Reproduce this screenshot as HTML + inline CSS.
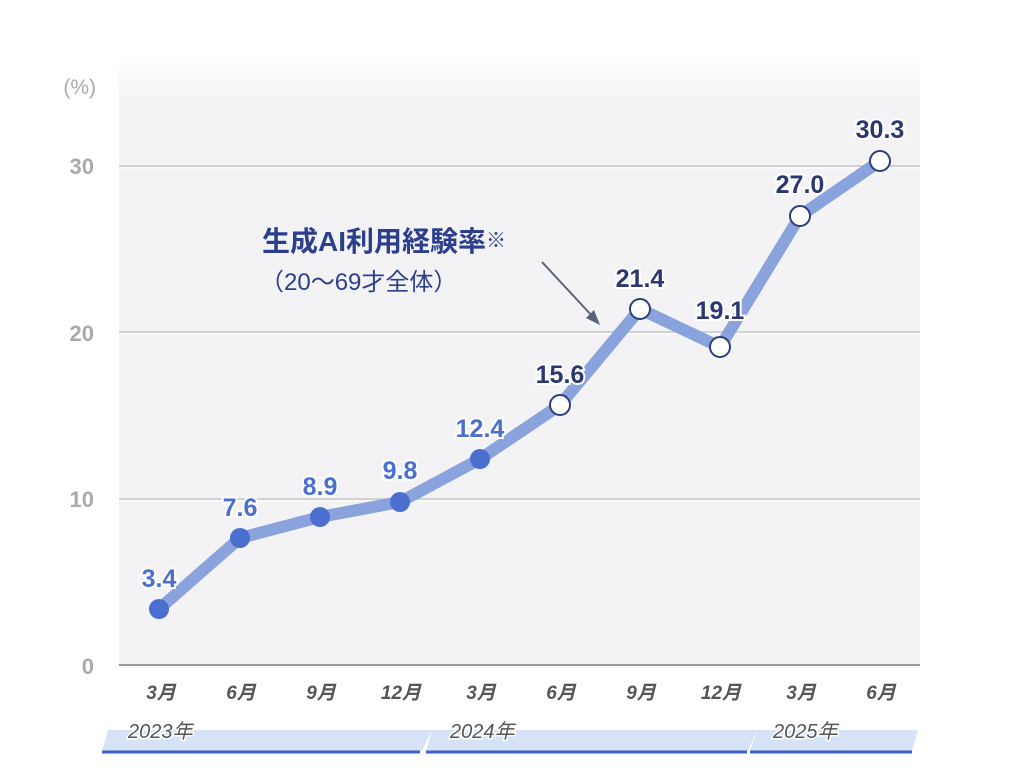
<!DOCTYPE html>
<html><head><meta charset="utf-8"><style>
body{margin:0;background:#fff;}
svg{display:block;font-family:"Liberation Sans","Noto Sans CJK JP",sans-serif;}
</style></head><body>
<svg width="1024" height="777" viewBox="0 0 1024 777">
<defs>
<linearGradient id="bg" x1="0" y1="0" x2="0" y2="1">
<stop offset="0" stop-color="#fff"/><stop offset="0.08" stop-color="#f3f3f5"/><stop offset="1" stop-color="#f3f3f5"/>
</linearGradient>
</defs>
<rect x="119" y="55" width="801" height="610" fill="url(#bg)"/>
<g stroke="#c8c8c8" stroke-width="1.5">
<line x1="119" y1="166" x2="920" y2="166"/>
<line x1="119" y1="332" x2="920" y2="332"/>
<line x1="119" y1="499" x2="920" y2="499"/>
</g>
<g stroke="#fff" stroke-width="1">
<line x1="119" y1="168" x2="920" y2="168"/>
<line x1="119" y1="334" x2="920" y2="334"/>
<line x1="119" y1="501" x2="920" y2="501"/>
</g>
<line x1="119" y1="665" x2="920" y2="665" stroke="#999" stroke-width="2"/>
<g fill="#aaa" font-size="22" font-weight="bold" text-anchor="end">
<text x="96" y="94" font-weight="normal" font-size="21">(%)</text>
<text x="94" y="174">30</text>
<text x="94" y="341">20</text>
<text x="94" y="507">10</text>
<text x="94" y="674">0</text>
</g>
<polyline points="159,609 240,538 320,517 400,502 480,459 560,405 640,309 720,347 800,216 880,161" fill="none" stroke="#8aa3dc" stroke-width="12" stroke-linejoin="round" stroke-linecap="round"/>
<g fill="#4a6fcf">
<circle cx="159" cy="609" r="10"/><circle cx="240" cy="538" r="10"/><circle cx="320" cy="517" r="10"/><circle cx="400" cy="502" r="10"/><circle cx="480" cy="459" r="10"/>
</g>
<g fill="#fff" stroke="#2c3e7c" stroke-width="2">
<circle cx="560" cy="405" r="10"/><circle cx="640" cy="309" r="10"/><circle cx="720" cy="347" r="10"/><circle cx="800" cy="216" r="10"/><circle cx="880" cy="161" r="10"/>
</g>
<g font-size="25" font-weight="bold" text-anchor="middle" stroke="#fff" stroke-width="4" paint-order="stroke">
<g fill="#4a6fcf">
<text x="159" y="587">3.4</text><text x="240" y="516">7.6</text><text x="320" y="495">8.9</text><text x="400" y="479">9.8</text><text x="480" y="437">12.4</text>
</g>
<g fill="#2c3670">
<text x="560" y="383">15.6</text><text x="640" y="287">21.4</text><text x="720" y="319">19.1</text><text x="800" y="193">27.0</text><text x="880" y="138">30.3</text>
</g>
</g>
<text x="262" y="251" font-size="28" font-weight="bold" fill="#2d3f8c">生成AI利用経験率<tspan font-size="20" dy="-4">※</tspan></text>
<text x="260" y="290" font-size="24" fill="#2d3f8c">（20～69才全体）</text>
<line x1="542" y1="262" x2="594" y2="318" stroke="#5a6478" stroke-width="2"/>
<polygon points="600,325 586,318 594,310" fill="#5a6478"/>
<g font-size="19" font-weight="bold" font-style="italic" fill="#555" text-anchor="middle" stroke="#fff" stroke-width="3" paint-order="stroke">
<text x="161" y="699">3月</text><text x="241" y="699">6月</text><text x="321" y="699">9月</text><text x="401" y="699">12月</text><text x="481" y="699">3月</text><text x="561" y="699">6月</text><text x="641" y="699">9月</text><text x="721" y="699">12月</text><text x="801" y="699">3月</text><text x="881" y="699">6月</text>
</g>
<g fill="#d6e2f5">
<polygon points="108,730 432,730 422,751 102,751"/>
<polygon points="432,730 757,730 748,751 426,751"/>
<polygon points="757,730 918,730 912,751 750,751"/>
</g>
<g stroke="#3d5fcb" stroke-width="3">
<line x1="102" y1="752" x2="420" y2="752"/><line x1="426" y1="752" x2="747" y2="752"/><line x1="750" y1="752" x2="912" y2="752"/>
</g>
<g font-size="20" font-style="italic" fill="#555" stroke="#fff" stroke-width="3" paint-order="stroke">
<text x="128" y="738">2023年</text><text x="450" y="738">2024年</text><text x="773" y="738">2025年</text>
</g>
</svg>
</body></html>
